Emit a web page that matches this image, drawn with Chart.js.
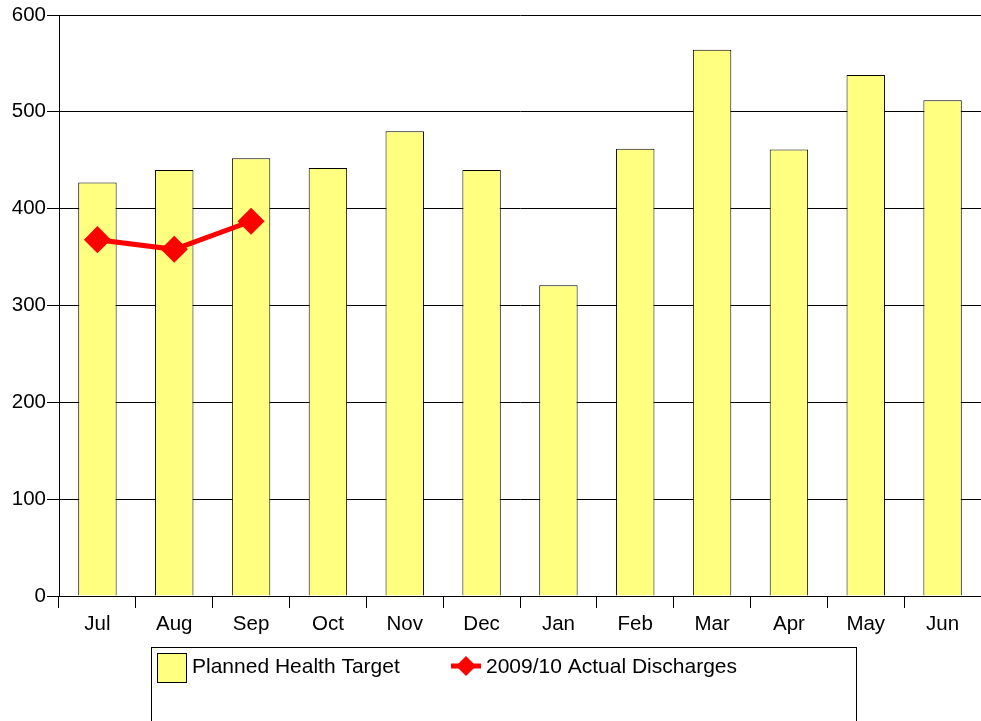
<!DOCTYPE html>
<html>
<head>
<meta charset="utf-8">
<script src="https://cdn.jsdelivr.net/npm/chart.js@4"></script>
<style>
html,body{margin:0;padding:0;background:#fff;}
#wrap{position:relative;width:981px;height:721px;}
</style>
</head>
<body>
<div id="wrap"><canvas id="c" width="981" height="721"></canvas></div>
<script>
const categories = ['Jul','Aug','Sep','Oct','Nov','Dec','Jan','Feb','Mar','Apr','May','Jun'];
const plannedTarget = [427, 440, 452, 442, 480, 440, 321, 462, 564, 461, 538, 512];
const actualDischarges = [368, 358, 387, null, null, null, null, null, null, null, null, null];
const yTicks = [0, 100, 200, 300, 400, 500, 600];
const seriesNames = ['Planned Health Target', '2009/10 Actual Discharges'];

const FONT = 'Liberation Sans, Arial, sans-serif';

const legendPlugin = {
  id: 'boxLegend',
  afterDraw(chart) {
    const ctx = chart.ctx;
    const barDs = chart.data.datasets.find(d => d.type === 'bar');
    const lineDs = chart.data.datasets.find(d => d.type === 'line');
    ctx.save();
    ctx.strokeStyle = '#000';
    ctx.lineWidth = 1;
    ctx.strokeRect(151.5, 647.5, 705, 90);
    ctx.font = '21px ' + FONT;
    ctx.textBaseline = 'middle';
    // item 1 : bar swatch
    ctx.fillStyle = barDs.backgroundColor;
    ctx.fillRect(157.5, 653.5, 29, 29);
    ctx.strokeStyle = '#000';
    ctx.strokeRect(157.5, 653.5, 29, 29);
    ctx.fillStyle = '#000';
    ctx.fillText(barDs.label, 192, 667);
    // item 2 : line + diamond
    ctx.strokeStyle = lineDs.borderColor;
    ctx.lineWidth = 5;
    ctx.beginPath();
    ctx.moveTo(451, 666);
    ctx.lineTo(481, 666);
    ctx.stroke();
    ctx.fillStyle = lineDs.pointBackgroundColor;
    ctx.beginPath();
    ctx.moveTo(466, 656);
    ctx.lineTo(476, 666);
    ctx.lineTo(466, 676);
    ctx.lineTo(456, 666);
    ctx.closePath();
    ctx.fill();
    ctx.fillStyle = '#000';
    ctx.fillText(lineDs.label, 486, 667);
    ctx.restore();
  }
};

new Chart(document.getElementById('c'), {
  type: 'bar',
  data: {
    labels: categories,
    datasets: [
      {
        type: 'line',
        label: seriesNames[1],
        data: actualDischarges,
        borderColor: '#FF0000',
        backgroundColor: '#FF0000',
        pointBackgroundColor: '#FF0000',
        pointBorderColor: '#FF0000',
        borderWidth: 5,
        pointStyle: 'rectRot',
        pointRadius: 10,
        pointHoverRadius: 10,
        spanGaps: false,
        clip: false,
        order: 0
      },
      {
        type: 'bar',
        label: seriesNames[0],
        data: plannedTarget,
        backgroundColor: '#FFFF80',
        borderColor: '#000000',
        borderWidth: 1,
        barPercentage: 0.5,
        categoryPercentage: 1.0,
        order: 1
      }
    ]
  },
  options: {
    responsive: false,
    animation: false,
    devicePixelRatio: 1,
    layout: { autoPadding: false, padding: { top: 15, right: 0, left: 0, bottom: 80 } },
    plugins: {
      legend: { display: false },
      tooltip: { enabled: false }
    },
    scales: {
      x: {
        offset: true,
        grid: {
          offset: true,
          drawOnChartArea: false,
          drawTicks: true,
          tickLength: 12,
          color: '#000',
          lineWidth: 1
        },
        border: { display: true, color: '#000', width: 1 },
        ticks: {
          font: { family: FONT, size: 20.5 },
          color: '#000',
          padding: 4,
          maxRotation: 0,
          autoSkip: false
        },
        afterFit(scale) {
          scale.height = 45;
          scale.paddingLeft = 0;
          scale.paddingRight = 0;
        }
      },
      y: {
        min: 0,
        max: 600,
        afterBuildTicks(scale) { scale.ticks = yTicks.map(v => ({ value: v })); },
        grid: {
          color: '#000',
          lineWidth: 1,
          tickLength: 12,
          drawTicks: true
        },
        border: { display: true, color: '#000', width: 1 },
        ticks: {
          font: { family: FONT, size: 20.5 },
          color: '#000',
          padding: 1
        },
        afterFit(scale) { scale.width = 59; }
      }
    }
  },
  plugins: [legendPlugin]
});
</script>
</body>
</html>
